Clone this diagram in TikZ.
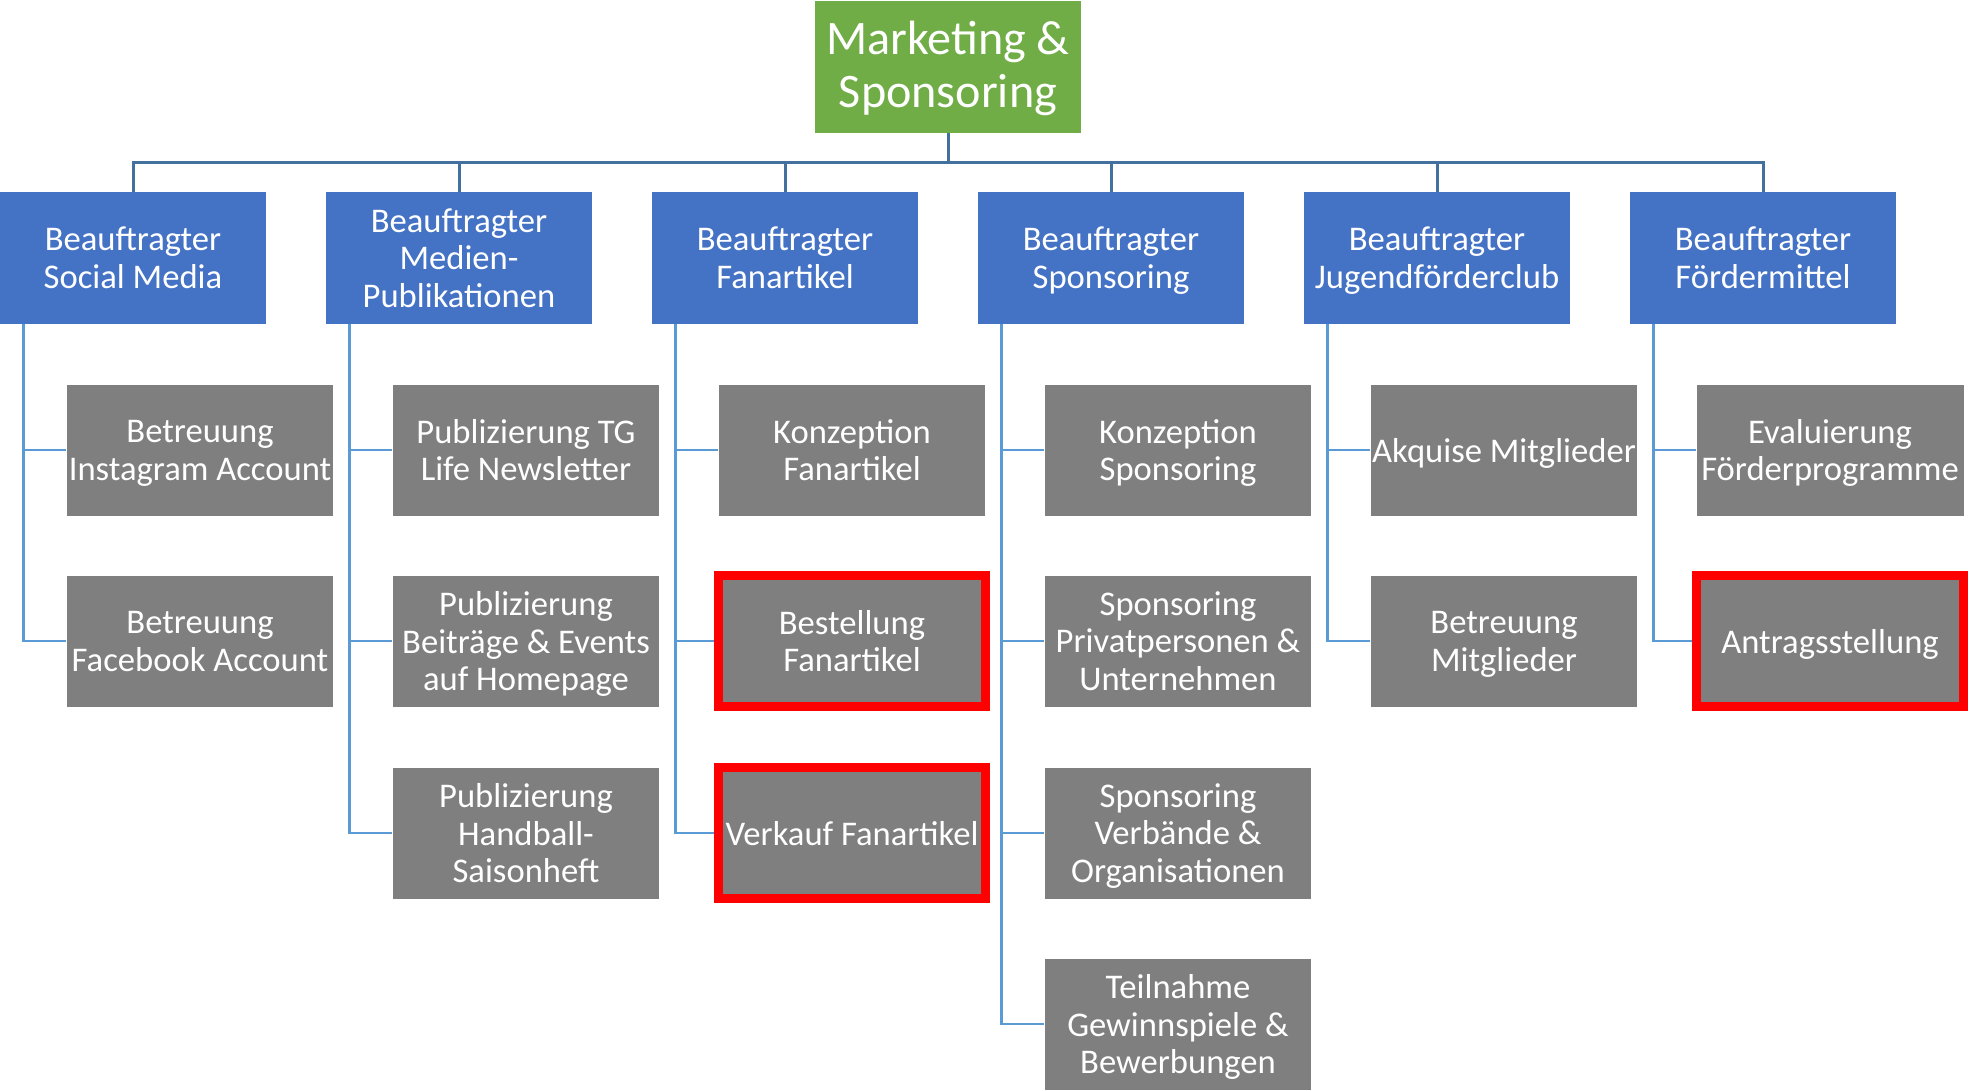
\documentclass[tikz,border=0pt]{standalone}
\usepackage{fontspec}
\setmainfont{Carlito}
\usepackage{tikz}
\usetikzlibrary{calc}

\definecolor{chefgreen}{HTML}{70AD47}
\definecolor{beaufblue}{HTML}{4472C4}
\definecolor{taskgray}{HTML}{7F7F7F}
\definecolor{busblue}{HTML}{41719C}
\definecolor{subblue}{HTML}{5B9BD5}

\begin{document}
\begin{tikzpicture}[x=0.02cm, y=-0.02cm,
		chef/.style={fill=chefgreen, text=white, minimum width=5.32cm, minimum height=2.64cm, inner sep=0pt, align=center, text depth=2.6pt, font=\fontsize{27.4}{30.2}\selectfont},
		beauf/.style={fill=beaufblue, text=white, minimum width=5.32cm, minimum height=2.64cm, inner sep=0pt, align=center, text depth=0pt, font=\fontsize{19.7}{21.5}\selectfont},
		task/.style={fill=taskgray, text=white, minimum width=5.34cm, minimum height=2.62cm, inner sep=0pt, align=center, text depth=0pt, font=\fontsize{19.7}{21.5}\selectfont},
		hot/.style={draw=red, line width=0.19cm},
		bus/.style={draw=busblue, line width=0.06cm},
		sub/.style={draw=subblue, line width=0.05cm}]
			%%%%% START %%%%%
			
			\useasboundingbox (0, 0) rectangle (1970, 1090);
			
			\node[chef] (root) at (948, 67) {Marketing \&\\Sponsoring};
			\coordinate (bus) at (948, 162);
			
			\node[beauf] (bSocial) at (133, 258) {Beauftragter\\Social Media};
			\node[beauf] (bMedien) at (459, 258) {Beauftragter\\Medien-\\Publikationen};
			\node[beauf] (bFan) at (785, 258) {Beauftragter\\Fanartikel};
			\node[beauf] (bSpons) at (1111, 258) {Beauftragter\\Sponsoring};
			\node[beauf] (bJugend) at (1437, 258) {Beauftragter\\Jugendförderclub};
			\node[beauf] (bFoerder) at (1763, 258) {Beauftragter\\Fördermittel};
			
			\draw[bus] (root.south) -- (bus);
			\draw[bus] (bus) -| (bSocial.north);
			\draw[bus] (bus) -| (bMedien.north);
			\draw[bus] (bus) -| (bFan.north);
			\draw[bus] (bus) -| (bSpons.north);
			\draw[bus] (bus) -| (bJugend.north);
			\draw[bus] (bus) -| (bFoerder.north);
			
			\node[task] (sInsta) at (200, 450) {Betreuung\\Instagram Account};
			\node[task] (sFace) at (200, 641) {Betreuung\\Facebook Account};
			
			\node[task] (mNews) at (526, 450) {Publizierung TG\\Life Newsletter};
			\node[task] (mHome) at (526, 641) {Publizierung\\Beiträge \& Events\\auf Homepage};
			\node[task] (mHeft) at (526, 833) {Publizierung\\Handball-\\Saisonheft};
			
			\node[task] (fKonz) at (852, 450) {Konzeption\\Fanartikel};
			\node[task, hot] (fBest) at (852, 641) {Bestellung\\Fanartikel};
			\node[task, hot] (fVerk) at (852, 833) {Verkauf Fanartikel};
			
			\node[task] (sKonz) at (1178, 450) {Konzeption\\Sponsoring};
			\node[task] (sPriv) at (1178, 641) {Sponsoring\\Privatpersonen \&\\Unternehmen};
			\node[task] (sVerb) at (1178, 833) {Sponsoring\\Verbände \&\\Organisationen};
			\node[task] (sGewinn) at (1178, 1024) {Teilnahme\\Gewinnspiele \&\\Bewerbungen};
			
			\node[task] (jAkq) at (1504, 450) {Akquise Mitglieder};
			\node[task] (jBetr) at (1504, 641) {Betreuung\\Mitglieder};
			
			\node[task] (eEval) at (1830, 450) {Evaluierung\\Förderprogramme};
			\node[task, hot] (eAntrag) at (1830, 641) {Antragsstellung};
			
			\draw[sub] ($(bSocial.south west)+(24, 0)$) |- (sInsta.west);
			\draw[sub] ($(bSocial.south west)+(24, 0)$) |- (sFace.west);
			
			\draw[sub] ($(bMedien.south west)+(24, 0)$) |- (mNews.west);
			\draw[sub] ($(bMedien.south west)+(24, 0)$) |- (mHome.west);
			\draw[sub] ($(bMedien.south west)+(24, 0)$) |- (mHeft.west);
			
			\draw[sub] ($(bFan.south west)+(24, 0)$) |- (fKonz.west);
			\draw[sub] ($(bFan.south west)+(24, 0)$) |- (fBest.west);
			\draw[sub] ($(bFan.south west)+(24, 0)$) |- (fVerk.west);
			
			\draw[sub] ($(bSpons.south west)+(24, 0)$) |- (sKonz.west);
			\draw[sub] ($(bSpons.south west)+(24, 0)$) |- (sPriv.west);
			\draw[sub] ($(bSpons.south west)+(24, 0)$) |- (sVerb.west);
			\draw[sub] ($(bSpons.south west)+(24, 0)$) |- (sGewinn.west);
			
			\draw[sub] ($(bJugend.south west)+(24, 0)$) |- (jAkq.west);
			\draw[sub] ($(bJugend.south west)+(24, 0)$) |- (jBetr.west);
			
			\draw[sub] ($(bFoerder.south west)+(24, 0)$) |- (eEval.west);
			\draw[sub] ($(bFoerder.south west)+(24, 0)$) |- (eAntrag.west);
			
			%%%%% END %%%%%
\end{tikzpicture}
\end{document}
